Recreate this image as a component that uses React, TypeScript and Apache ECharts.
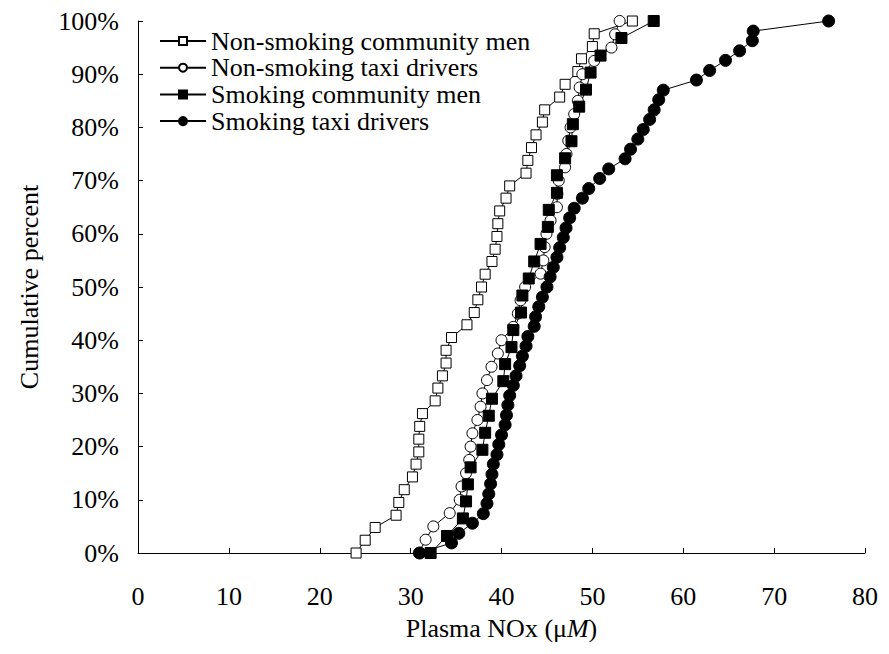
import React, { useEffect, useRef } from "react";
import * as echarts from "echarts";

const seriesNames = [
  "Non-smoking community men",
  "Non-smoking taxi drivers",
  "Smoking community men",
  "Smoking taxi drivers",
];

// Non-smoking community men (open squares)
const nsCommunityX = [24.0, 25.0, 26.1, 28.4, 28.7, 29.3, 30.2, 30.6, 30.9, 30.9, 31.0, 31.3, 32.7, 33.0, 33.5, 33.9, 33.9, 34.5, 36.2, 37.0, 37.4, 37.8, 38.2, 38.95, 39.3, 39.5, 39.6, 39.8, 40.5, 40.9, 42.7, 42.9, 43.3, 43.8, 44.5, 44.75, 46.4, 47.0, 48.4, 48.8, 50.0, 50.2, 54.4];
const nsCommunityY = [0, 2.4, 4.8, 7.1, 9.5, 11.9, 14.3, 16.7, 19.0, 21.4, 23.8, 26.2, 28.6, 31.0, 33.3, 35.7, 38.1, 40.5, 42.9, 45.2, 47.6, 50.0, 52.4, 54.8, 57.1, 59.5, 61.9, 64.3, 66.7, 69.0, 71.4, 73.8, 76.2, 78.6, 81.0, 83.3, 85.7, 88.1, 90.5, 92.9, 95.2, 97.6, 100];

// Non-smoking taxi drivers (open circles)
const nsTaxiX = [30.9, 31.65, 32.5, 34.3, 35.4, 35.6, 36.1, 36.45, 36.6, 36.8, 37.35, 37.7, 37.9, 38.4, 38.9, 39.6, 40.0, 41.3, 41.8, 42.1, 42.6, 44.3, 44.6, 44.75, 44.95, 45.4, 46.1, 46.15, 46.3, 47.0, 47.15, 47.35, 47.6, 48.0, 48.4, 48.6, 48.9, 50.2, 52.1, 52.5, 53.0];
const nsTaxiY = [0, 2.5, 5.0, 7.5, 10.0, 12.5, 15.0, 17.5, 20.0, 22.5, 25.0, 27.5, 30.0, 32.5, 35.0, 37.5, 40.0, 42.5, 45.0, 47.5, 50.0, 52.5, 55.0, 57.5, 60.0, 62.5, 65.0, 67.5, 70.0, 72.5, 75.0, 77.5, 80.0, 82.5, 85.0, 87.5, 90.0, 92.5, 95.0, 97.5, 100];

// Smoking community men (filled squares)
const sCommunityX = [32.2, 34.0, 35.75, 36.1, 36.3, 36.6, 37.9, 38.2, 38.6, 38.95, 40.2, 40.4, 41.1, 41.3, 42.15, 42.3, 43.0, 43.6, 44.3, 45.1, 45.2, 46.1, 46.1, 47.0, 47.7, 47.85, 48.55, 49.3, 49.8, 50.9, 53.2, 56.75];
const sCommunityY = [0, 3.2, 6.5, 9.7, 12.9, 16.1, 19.4, 22.6, 25.8, 29.0, 32.3, 35.5, 38.7, 41.9, 45.2, 48.4, 51.6, 54.8, 58.1, 61.3, 64.5, 67.7, 71.0, 74.2, 77.4, 80.6, 83.9, 87.1, 90.3, 93.5, 96.8, 100];

// Smoking taxi drivers (filled circles)
const sTaxiX = [31.0, 34.5, 35.3, 36.8, 38.0, 38.4, 38.6, 38.8, 38.95, 39.1, 39.5, 39.7, 40.0, 40.4, 40.55, 40.7, 40.9, 41.3, 41.6, 42.0, 42.3, 42.7, 42.9, 43.6, 43.75, 44.1, 44.5, 45.0, 45.35, 45.7, 46.1, 46.4, 46.8, 47.1, 47.5, 48.0, 48.9, 49.6, 50.8, 51.8, 53.6, 54.2, 55.0, 55.6, 56.3, 56.8, 57.3, 57.8, 61.45, 62.9, 64.65, 66.2, 67.6, 67.7, 76.0];
const sTaxiY = [0, 1.9, 3.7, 5.6, 7.4, 9.3, 11.1, 13.0, 14.8, 16.7, 18.5, 20.4, 22.2, 24.1, 25.9, 27.8, 29.6, 31.5, 33.3, 35.2, 37.0, 38.9, 40.7, 42.6, 44.4, 46.3, 48.1, 50.0, 51.9, 53.7, 55.6, 57.4, 59.3, 61.1, 63.0, 64.8, 66.7, 68.5, 70.4, 72.2, 74.1, 75.9, 77.8, 79.6, 81.5, 83.3, 85.2, 87.0, 88.9, 90.7, 92.6, 94.4, 96.3, 98.1, 100];

const xTicks = { min: 0, max: 80, interval: 10 };
const yTicks = { min: 0, max: 100, interval: 10 };

const FONT = "'Liberation Serif', 'Times New Roman', serif";
const FS = 26;

function zip(xs: number[], ys: number[]) {
  return xs.map((x, i) => [x, ys[i]]);
}

export default function App() {
  const ref = useRef<HTMLDivElement>(null);
  useEffect(() => {
    if (!ref.current) return;
    const chart = echarts.init(ref.current, null, { renderer: "svg" });
    const mk = (
      name: string,
      data: number[][],
      symbol: string,
      size: number,
      fill: string
    ) => ({
      name,
      type: "line",
      data,
      symbol,
      symbolSize: size,
      showSymbol: true,
      lineStyle: { color: "#000", width: 1 },
      itemStyle: { color: fill, borderColor: "#000", borderWidth: 1 },
      emphasis: { disabled: true },
    });
    chart.setOption({
      animation: false,
      backgroundColor: "#fff",
      textStyle: { fontFamily: FONT, color: "#000" },
      grid: { left: 119, top: 11, right: 5, bottom: 86, containLabel: false },
      legend: {
        left: 146,
        top: 15,
        orient: "vertical",
        itemWidth: 46,
        itemHeight: 10,
        itemGap: 0.7,
        textStyle: { fontFamily: FONT, fontSize: FS, color: "#000", lineHeight: 22 },
        data: seriesNames,
      },
      xAxis: {
        type: "value",
        min: xTicks.min,
        max: xTicks.max,
        interval: xTicks.interval,
        axisLine: { lineStyle: { color: "#000", width: 1 } },
        axisTick: { inside: true, length: 5, lineStyle: { color: "#000" } },
        splitLine: { show: false },
        axisLabel: { margin: 30, fontFamily: FONT, fontSize: FS, color: "#000" },
        name: "Plasma NOx (μ{i|M})",
        nameLocation: "middle",
        nameGap: 62,
        nameTextStyle: {
          fontFamily: FONT,
          fontSize: FS,
          color: "#000",
          rich: { i: { fontFamily: FONT, fontSize: FS, fontStyle: "italic", color: "#000" } },
        },
      },
      yAxis: {
        type: "value",
        min: yTicks.min,
        max: yTicks.max,
        interval: yTicks.interval,
        axisLine: { show: true, lineStyle: { color: "#000", width: 1 } },
        axisTick: { show: true, inside: true, length: 5, lineStyle: { color: "#000" } },
        splitLine: { show: false },
        axisLabel: { margin: 19, fontFamily: FONT, fontSize: FS, color: "#000", formatter: "{value}%" },
        name: "Cumulative percent",
        nameLocation: "middle",
        nameRotate: 90,
        nameGap: 96,
        nameTextStyle: { fontFamily: FONT, fontSize: FS, color: "#000" },
      },
      series: [
        mk(seriesNames[0], zip(nsCommunityX, nsCommunityY), "rect", 10, "#fff"),
        mk(seriesNames[1], zip(nsTaxiX, nsTaxiY), "circle", 11, "#fff"),
        mk(seriesNames[2], zip(sCommunityX, sCommunityY), "rect", 11, "#000"),
        mk(seriesNames[3], zip(sTaxiX, sTaxiY), "circle", 12, "#000"),
      ],
    });
    return () => chart.dispose();
  }, []);
  return <div ref={ref} style={{ width: 873, height: 638 }} />;
}
